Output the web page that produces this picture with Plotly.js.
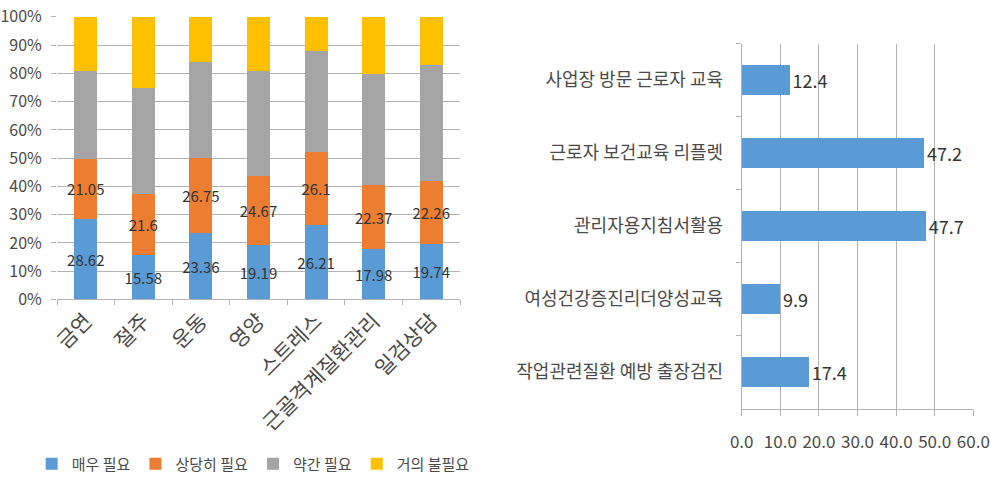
<!DOCTYPE html>
<html>
<head>
<meta charset="utf-8">
<script src="https://cdn.plot.ly/plotly-3.0.1.min.js"></script>
<style>
html,body{margin:0;padding:0;background:#fff;}
#chart{width:990px;height:481px;}
</style>
</head>
<body>
<div id="chart"></div>
<script>
// ---- Left chart: 100% stacked need levels by health program ----
const categoriesL = ['금연', '절주', '운동', '영양', '스트레스', '근골격계질환관리', '일검상담'];
const seriesNames = ['매우 필요', '상당히 필요', '약간 필요', '거의 불필요'];
const veryNeeded = [28.62, 15.58, 23.36, 19.19, 26.21, 17.98, 19.74];
const quiteNeeded = [21.05, 21.6, 26.75, 24.67, 26.1, 22.37, 22.26];
const somewhatNeeded = [31.0, 37.6, 33.8, 36.9, 35.6, 39.4, 41.0];
const hardlyNeeded = [19.4, 25.2, 16.1, 19.3, 12.1, 20.2, 17.0];
const yTickValsL = [0, 10, 20, 30, 40, 50, 60, 70, 80, 90, 100];
const yTickTextL = ['0%', '10%', '20%', '30%', '40%', '50%', '60%', '70%', '80%', '90%', '100%'];

// ---- Right chart: program usage ----
const programs = ['사업장 방문 근로자 교육', '근로자 보건교육 리플렛', '관리자용지침서활용', '여성건강증진리더양성교육', '작업관련질환 예방 출장검진'];
const programValues = [12.4, 47.2, 47.7, 9.9, 17.4];
const xTickValsR = [0, 10, 20, 30, 40, 50, 60];
const xTickTextR = ['0.0', '10.0', '20.0', '30.0', '40.0', '50.0', '60.0'];

const FONT = 'Noto Sans CJK KR, Noto Sans, sans-serif';
const colors = ['#5B9BD5', '#ED7D31', '#A5A5A5', '#FFC000'];
const seriesValues = [veryNeeded, quiteNeeded, somewhatNeeded, hardlyNeeded];
const labelled = [true, true, false, false];

const traces = seriesValues.map((vals, i) => ({
  type: 'bar',
  name: seriesNames[i],
  x: categoriesL,
  y: vals,
  xaxis: 'x',
  yaxis: 'y',
  width: 0.4,
  marker: {color: colors[i], line: {width: 0}},
  text: labelled[i] ? vals.map(v => String(v)) : undefined,
  textposition: labelled[i] ? 'inside' : 'none',
  insidetextanchor: 'middle',
  textangle: 0,
  constraintext: 'none',
  textfont: {family: FONT, size: 15, color: '#333333'},
  hoverinfo: 'x+y+name'
}));

traces.push({
  type: 'bar',
  orientation: 'h',
  name: '프로그램',
  showlegend: false,
  x: programValues,
  y: programs,
  xaxis: 'x2',
  yaxis: 'y2',
  width: 0.41,
  marker: {color: '#5B9BD5', line: {width: 0}},
  text: programValues.map(v => v.toFixed(1)),
  textposition: 'outside',
  textangle: 0,
  constraintext: 'none',
  cliponaxis: false,
  textfont: {family: FONT, size: 18, color: '#333333'}
});

const gridC = '#b3b3b3';
const tickFontColor = '#4a4a4a';

const layout = {
  width: 990,
  height: 481,
  margin: {l: 0, r: 0, t: 0, b: 0},
  paper_bgcolor: '#ffffff',
  plot_bgcolor: 'rgba(0,0,0,0)',
  font: {family: FONT, color: tickFontColor},
  barmode: 'stack',
  showlegend: true,
  legend: {
    orientation: 'h',
    x: 0.032, xanchor: 'left',
    y: 0.027, yanchor: 'middle',
    font: {family: FONT, size: 15, color: tickFontColor},
    traceorder: 'normal',
    itemwidth: 30
  },
  xaxis: {
    domain: [57 / 990, 460 / 990],
    anchor: 'y',
    type: 'category',
    showgrid: false,
    showline: true, linecolor: gridC, linewidth: 1,
    ticks: 'outside', tickson: 'boundaries', ticklen: 5, tickcolor: gridC,
    tickangle: -45,
    tickfont: {family: FONT, size: 21, color: tickFontColor},
    fixedrange: true
  },
  yaxis: {
    domain: [(481 - 302) / 481, (481 - 17) / 481],
    anchor: 'x',
    range: [0, 100],
    tickvals: yTickValsL,
    ticktext: yTickTextL,
    showgrid: true, gridcolor: gridC, gridwidth: 1,
    zeroline: false,
    showline: false,
    ticks: 'outside', ticklen: 5, tickcolor: gridC,
    ticklabelstandoff: 6,
    tickfont: {family: FONT, size: 16, color: tickFontColor},
    fixedrange: true
  },
  xaxis2: {
    domain: [741.7 / 990, 973.3 / 990],
    anchor: 'y2',
    range: [0, 60],
    tickvals: xTickValsR,
    ticktext: xTickTextR,
    showgrid: true, gridcolor: gridC, gridwidth: 1,
    zeroline: false,
    showline: true, linecolor: gridC, linewidth: 1,
    ticks: 'outside', ticklen: 6, tickcolor: gridC,
    ticklabelstandoff: 12,
    tickfont: {family: FONT, size: 17, color: tickFontColor},
    fixedrange: true
  },
  yaxis2: {
    domain: [(481 - 412) / 481, (481 - 44) / 481],
    anchor: 'x2',
    type: 'category',
    autorange: 'reversed',
    showgrid: false,
    showline: true, linecolor: gridC, linewidth: 1,
    ticks: 'outside', tickson: 'boundaries', ticklen: 5, tickcolor: gridC,
    ticklabelstandoff: 14,
    tickfont: {family: FONT, size: 18, color: tickFontColor},
    fixedrange: true
  }
};

Plotly.newPlot('chart', traces, layout, {displayModeBar: false, staticPlot: true});
</script>
</body>
</html>
